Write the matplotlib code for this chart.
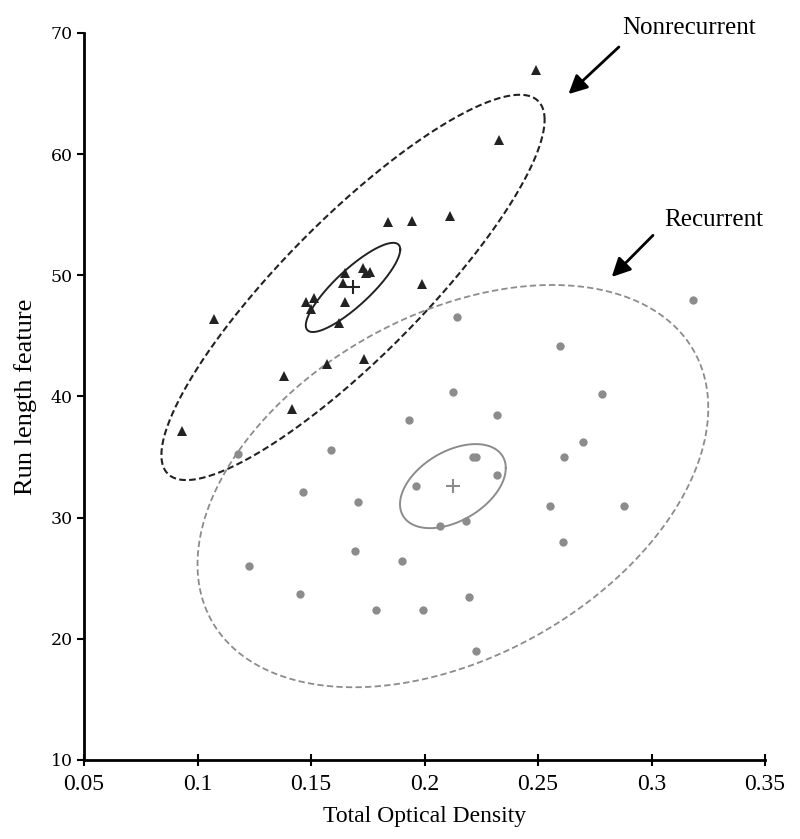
import numpy as np
import matplotlib
matplotlib.use("Agg")
import matplotlib.pyplot as plt

plt.rcParams['font.family'] = ['Liberation Serif', 'DejaVu Serif']

# nonrecurrent cases (triangles)
nonrec_x = [0.0931, 0.1072, 0.1383, 0.1418, 0.2493, 0.2329, 0.1841, 0.1947, 0.2114, 0.1989, 0.1476,
            0.1511, 0.1498, 0.1648, 0.1640, 0.1651, 0.1623, 0.1728, 0.1743, 0.1761, 0.1572, 0.1732]
nonrec_y = [37.13, 46.36, 41.68, 38.93, 66.94, 61.16, 54.39, 54.48, 54.89, 49.27, 47.81,
            48.14, 47.21, 50.21, 49.33, 47.76, 46.03, 50.62, 50.21, 50.24, 42.67, 43.06]

# recurrent cases (dots)
rec_x = [0.1177, 0.1586, 0.1932, 0.2321, 0.1466, 0.1706, 0.1961, 0.2214, 0.2227, 0.2321,
         0.2070, 0.2184, 0.1695, 0.1903, 0.1229, 0.1451, 0.1787, 0.1992, 0.2197, 0.2227,
         0.2142, 0.3181, 0.2598, 0.2124, 0.2781, 0.2700, 0.2615, 0.2552, 0.2880, 0.2611]
rec_y = [35.24, 35.62, 38.04, 38.51, 32.10, 31.30, 32.59, 34.99, 34.99, 33.48,
         29.31, 29.73, 27.23, 26.42, 26.01, 23.70, 22.35, 22.35, 23.45, 18.99,
         46.52, 47.95, 44.18, 40.36, 40.19, 36.25, 34.99, 30.97, 30.97, 28.03]

# group means
nonrec_mean = [0.1685, 49.0]
rec_mean = [0.2125, 32.6]

# ellipses: half extent in x, half extent in y, correlation
nonrec_inner = [0.0208, 3.68, 0.85]
nonrec_outer = [0.0844, 15.9, 0.87]
rec_inner = [0.0233, 3.47, 0.43]
rec_outer = [0.1125, 16.6, 0.389]

xticks = [0.05, 0.1, 0.15, 0.2, 0.25, 0.3, 0.35]
xticklabels = ['0.05', '0.1', '0.15', '0.2', '0.25', '0.3', '0.35']
yticks = [10, 20, 30, 40, 50, 60, 70]

dark = '#222222'
grey = '#8c8c8c'


def ellipse(center, params, n=400):
    hx, hy, rho = params
    t = np.linspace(0, 2 * np.pi, n)
    x = center[0] + hx * np.cos(t)
    y = center[1] + hy * (rho * np.cos(t) + np.sqrt(1 - rho ** 2) * np.sin(t))
    return x, y


fig = plt.figure(figsize=(8, 8.39), dpi=100)
ax = fig.add_axes([0.105, 0.0942, 0.8513, 0.8665])

ax.plot(*ellipse(nonrec_mean, nonrec_outer), color=dark, lw=1.5, linestyle=(0, (3.2, 1.6)))
ax.plot(*ellipse(nonrec_mean, nonrec_inner), color=dark, lw=1.4)
ax.plot(*ellipse(rec_mean, rec_outer), color=grey, lw=1.3, linestyle=(0, (3.5, 1.8)))
ax.plot(*ellipse(rec_mean, rec_inner), color=grey, lw=1.4)

ax.plot(rec_x, rec_y, 'o', color=grey, markersize=6, markeredgewidth=0)
ax.plot(nonrec_x, nonrec_y, '^', color=dark, markersize=7.5, markeredgewidth=0)
ax.plot(*nonrec_mean, '+', color=dark, markersize=10, markeredgewidth=1.5)
ax.plot(*rec_mean, '+', color=grey, markersize=10, markeredgewidth=1.5)

ax.text(0.287, 70.4, 'Nonrecurrent', fontsize=18, va='center', ha='left', clip_on=False)
ax.annotate('', xy=(0.2625, 64.8), xytext=(0.2865, 69.0),
            arrowprops=dict(arrowstyle='-|>', color='black', lw=2, mutation_scale=28))
ax.text(0.3055, 54.56, 'Recurrent', fontsize=18, va='center', ha='left', clip_on=False)
ax.annotate('', xy=(0.2816, 49.7), xytext=(0.3015, 53.46),
            arrowprops=dict(arrowstyle='-|>', color='black', lw=2, mutation_scale=28))

ax.set_xlim(0.05, 0.35)
ax.set_ylim(10, 70)
ax.set_xticks(xticks)
ax.set_xticklabels(xticklabels)
ax.set_yticks(yticks)
ax.tick_params(axis='x', direction='inout', length=8, width=1.5, labelsize=17, pad=6)
ax.tick_params(axis='y', direction='out', length=5, width=1.5, labelsize=12.5, pad=3)
for lab in ax.get_yticklabels():
    lab.set_family('DejaVu Serif')

for side in ['top', 'right']:
    ax.spines[side].set_visible(False)
for side in ['left', 'bottom']:
    ax.spines[side].set_linewidth(2)

ax.set_xlabel('Total Optical Density', fontsize=17, labelpad=8)
ax.set_ylabel('Run length feature', fontsize=19, labelpad=10)

fig.savefig('out.png', dpi=100)
